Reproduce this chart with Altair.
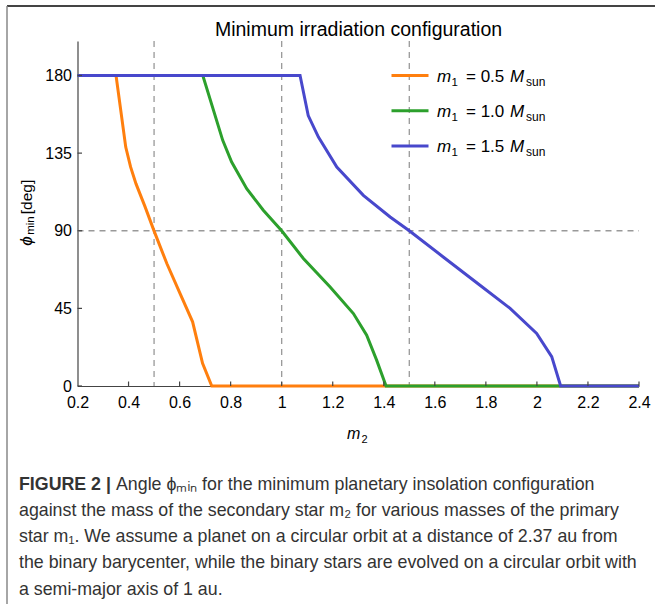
import altair as alt
import pandas as pd

# ---------------- data ----------------
x_ticks = [0.2, 0.4, 0.6, 0.8, 1.0, 1.2, 1.4, 1.6, 1.8, 2.0, 2.2, 2.4]
y_ticks = [0, 45, 90, 135, 180]
m1_labels = ["0.5", "1.0", "1.5"]
colors = ["#FF7F0E", "#2CA02C", "#4848CC"]

m2_a = [0.2, 0.351, 0.389, 0.408, 0.429, 0.4645, 0.501, 0.55, 0.602, 0.651, 0.69, 0.726, 2.4]
phi_a = [180, 180, 138.5, 127, 117.3, 104, 89.5, 71, 53.6, 37.2, 13.1, 0, 0]

m2_b = [0.2, 0.691, 0.769, 0.804, 0.863, 0.928, 1.0, 1.085, 1.189, 1.281, 1.333, 1.372, 1.409, 2.4]
phi_b = [180, 180, 142.4, 129.8, 114.4, 101.9, 90, 73.9, 57.5, 42, 29.5, 15, 0, 0]

m2_c = [0.2, 1.072, 1.104, 1.144, 1.216, 1.32, 1.425, 1.5, 1.633, 1.777, 1.895, 1.999, 2.058, 2.093, 2.4]
phi_c = [180, 180, 156.8, 144.3, 126.9, 110.5, 98, 90, 74.8, 58.4, 45, 30.5, 17, 0, 0]

v_lines = [0.5, 1.0, 1.5]
h_lines = [90]

title_text = "Minimum irradiation configuration"
caption_bold = "FIGURE 2 |"
caption_lines = [
    "Angle ϕₘᵢₙ for the minimum planetary insolation configuration",
    "against the mass of the secondary star m₂ for various masses of the primary",
    "star m₁. We assume a planet on a circular orbit at a distance of 2.37 au from",
    "the binary barycenter, while the binary stars are evolved on a circular orbit with",
    "a semi-major axis of 1 au.",
]

# ---------------- layout ----------------
OX, OY = 77.5, 41
W, H = 561.5, 345
FONT = "Liberation Sans"
CAP_FONT = "Liberation Sans"

xs = alt.Scale(domain=[0.2, 2.4], nice=False, zero=False)
ys = alt.Scale(domain=[0, 200], nice=False, zero=True)
xaxis = alt.Axis(values=x_ticks, format="~g", ticks=False, grid=False, title=None,
                 labelFont=FONT, labelFontSize=16, labelColor="black", labelPadding=8,
                 labelFlush=False, domainColor="#444", domainWidth=1.2)
yaxis = alt.Axis(values=y_ticks, ticks=False, grid=False, title=None,
                 labelFont=FONT, labelFontSize=16, labelColor="black", labelPadding=6,
                 labelFlush=False, domainColor="#444", domainWidth=1.2)


def X(f):
    return alt.X(f, type="quantitative", scale=xs, axis=xaxis)


def Y(f):
    return alt.Y(f, type="quantitative", scale=ys, axis=yaxis)


def txt(t, x, y, **kw):
    base = dict(font=FONT, fontSize=15, color="black", align="left", baseline="alphabetic")
    base.update(kw)
    return alt.Chart(pd.DataFrame({"t": [t]})).mark_text(**base).encode(
        text="t:N", x=alt.value(x - OX), y=alt.value(y - OY))


layers = []

# dashed reference lines
layers.append(alt.Chart(pd.DataFrame({"v": v_lines})).mark_rule(
    color="#999", strokeWidth=1.3, strokeDash=[6, 5]).encode(
    x=X("v"), y=alt.value(0), y2=alt.value(H)))
layers.append(alt.Chart(pd.DataFrame({"h": h_lines})).mark_rule(
    color="#999", strokeWidth=1.3, strokeDash=[6, 5]).encode(
    y=Y("h"), x=alt.value(0), x2=alt.value(W)))

# curves
for m2, phi, c in zip([m2_a, m2_b, m2_c], [phi_a, phi_b, phi_c], colors):
    df = pd.DataFrame({"m2": m2, "phi": phi, "i": range(len(m2))})
    layers.append(alt.Chart(df).mark_line(color=c, strokeWidth=3).encode(
        x=X("m2"), y=Y("phi"), order="i:Q"))

# inward ticks
layers.append(alt.Chart(pd.DataFrame({"v": x_ticks[1:]})).mark_rule(
    color="#444", strokeWidth=1.2).encode(x=X("v"), y=alt.value(H), y2=alt.value(H - 4.5)))
layers.append(alt.Chart(pd.DataFrame({"v": y_ticks})).mark_rule(
    color="#444", strokeWidth=1.2).encode(y=Y("v"), x=alt.value(0), x2=alt.value(4.5)))

# legend
for k, (lab, c) in enumerate(zip(m1_labels, colors)):
    yc = 75.5 + 35.3 * k
    layers.append(alt.Chart(pd.DataFrame({"a": [0]})).mark_rule(color=c, strokeWidth=3).encode(
        x=alt.value(391.5 - OX), x2=alt.value(428.5 - OX), y=alt.value(yc - OY)))
    yb = yc + 6
    layers.append(txt("m", 437, yb, fontSize=17, fontStyle="italic"))
    layers.append(txt("1", 451.5, yb + 4, fontSize=11.5))
    layers.append(txt("= " + lab, 466, yb, fontSize=17))
    layers.append(txt("M", 510, yb, fontSize=17, fontStyle="italic"))
    layers.append(txt("sun", 526, yb + 4, fontSize=12))

# title
layers.append(txt(title_text, 358.5, 30, fontSize=19.5, align="center", baseline="middle"))

# axis titles
layers.append(txt("m", 347, 439, fontSize=16, fontStyle="italic"))
layers.append(txt("2", 361.5, 443, fontSize=11))
layers.append(txt("ϕ", 27, 241, fontSize=17, fontStyle="italic", angle=270,
                  align="center", baseline="middle"))
layers.append(txt("min", 31, 225.5, fontSize=11.5, angle=270, align="center", baseline="middle"))
layers.append(txt("[deg]", 27, 197, fontSize=15.5, angle=270, align="center", baseline="middle"))

# frame
layers.append(alt.Chart(pd.DataFrame({"a": [0]})).mark_rule(color="#444", strokeWidth=2).encode(
    x=alt.value(7 - OX), x2=alt.value(655 - OX), y=alt.value(6 - OY)))
layers.append(alt.Chart(pd.DataFrame({"a": [0]})).mark_rule(color="#888", strokeWidth=1.5).encode(
    x=alt.value(7 - OX), y=alt.value(6 - OY), y2=alt.value(604 - OY)))

# caption
cap_y = [489.5, 515.8, 542.1, 568.4, 594.7]
layers.append(txt(caption_bold, 19, cap_y[0], font=CAP_FONT, fontSize=17.8, fontWeight="bold",
                  color="#333"))
for k, line in enumerate(caption_lines):
    x0 = 116 if k == 0 else 19
    layers.append(txt(line, x0, cap_y[k], font=CAP_FONT, fontSize=17.8, color="#333"))

chart = alt.layer(*layers).properties(
    width=W, height=H,
    autosize=alt.AutoSizeParams(type="none"),
    padding={"left": OX, "top": OY, "right": 655 - OX - W, "bottom": 604 - OY - H},
    background="white",
).configure_view(stroke=None)

chart.save("out.html", embed_options={"renderer": "svg", "actions": False})
